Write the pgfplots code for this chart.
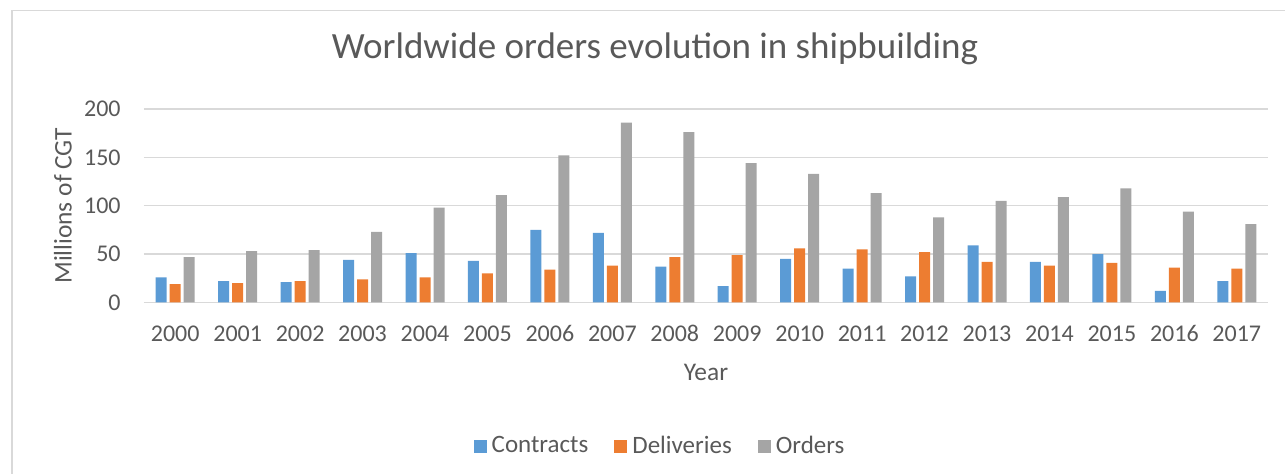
\documentclass[border=0pt]{standalone}
\usepackage{pgfplots}
\pgfplotsset{compat=1.18}
\usepackage{pgfplotstable}
\usepackage{fontspec}
\setmainfont{Carlito}
\definecolor{txt}{HTML}{595959}
\definecolor{grd}{HTML}{D9D9D9}
\definecolor{c1}{HTML}{5B9BD5}
\definecolor{c2}{HTML}{ED7D31}
\definecolor{c3}{HTML}{A5A5A5}
\pgfplotstableread{
x c d o
0 26 19 47
1 22 20 53
2 21 22 54
3 44 24 73
4 51 26 98
5 43 30 111
6 75 34 152
7 72 38 186
8 37 47 176
9 17 49 144
10 45 56 133
11 35 55 113
12 27 52 88
13 59 42 105
14 42 38 109
15 50 41 118
16 12 36 94
17 22 35 81
}\data
\begin{document}
\begin{tikzpicture}
\useasboundingbox (0,0) rectangle (642.5pt,237pt);
\draw[grd, line width=0.7pt] (6pt,-2pt) -- (6pt,231.75pt) -- (660pt,231.75pt);
\node[txt, font=\fontsize{18.5}{22}\selectfont, anchor=base, inner sep=0pt] at (327.5pt,207.5pt) {Worldwide orders evolution in shipbuilding};
\begin{axis}[
  at={(72pt,85.75pt)}, anchor=south west,
  scale only axis, width=562pt, height=96.75pt,
  xmin=-0.5, xmax=17.5, ymin=0, ymax=200,
  ybar=1.5pt, bar width=5.5pt,
  xtick={0,...,17},
  xticklabels={2000,2001,2002,2003,2004,2005,2006,2007,2008,2009,2010,2011,2012,2013,2014,2015,2016,2017},
  ytick={0,50,100,150,200},
  /pgf/number format/assume math mode=true,
  major tick length=0pt,
  axis x line*=bottom, axis y line*=left,
  x axis line style={grd, line width=0.65pt, -},
  y axis line style={draw=none},
  ymajorgrids, grid style={grd, line width=0.65pt},
  tick label style={font=\fontsize{12}{14}\selectfont, text=txt},
  yticklabel style={anchor=east, inner sep=0pt, xshift=-11.5pt},
  xticklabel style={anchor=base, inner sep=0pt, yshift=-19.6pt},
  xlabel={Year}, ylabel={Millions of CGT},
  label style={font=\fontsize{12.7}{15}\selectfont, text=txt},
  xlabel style={at={(axis description cs:0.5,-0.404)}, anchor=base, inner sep=0pt},
  ylabel style={at={(axis description cs:-0.0721,0.5)}, anchor=center, rotate=0, inner sep=0pt},
  legend columns=3,
  legend style={at={(axis description cs:0.46,-0.742)}, anchor=center, draw=none, fill=none,
    font=\fontsize{12.5}{14}\selectfont, text=txt,
    /tikz/every even column/.append style={column sep=11pt},
    /tikz/every odd column/.append style={column sep=0.5pt}},
  legend image code/.code={\fill[#1] (0pt,-3.25pt) rectangle (6.5pt,3.25pt);},
]
\addplot[fill=c1, draw=none] table[x=x,y=c]{\data};
\addplot[fill=c2, draw=none] table[x=x,y=d]{\data};
\addplot[fill=c3, draw=none] table[x=x,y=o]{\data};
\legend{Contracts,Deliveries,Orders}
\end{axis}
\end{tikzpicture}
\end{document}
